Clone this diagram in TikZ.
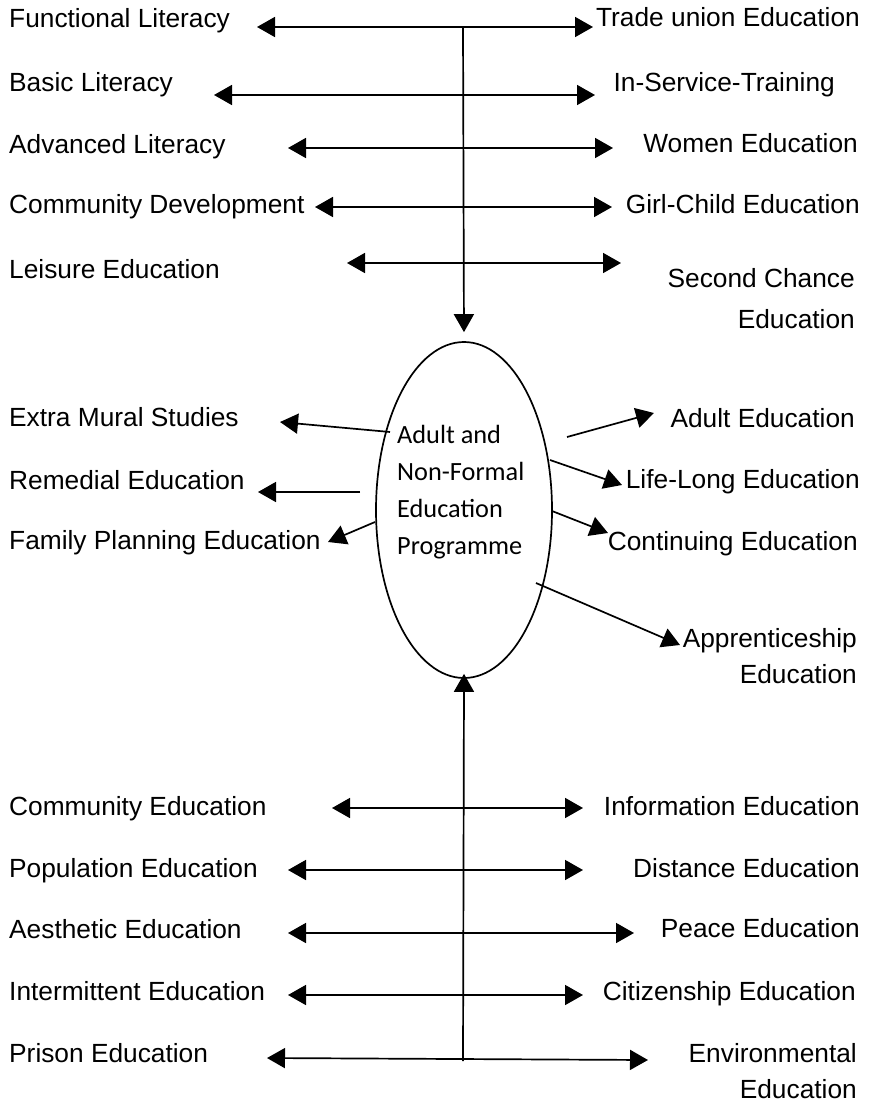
\documentclass[tikz,border=0pt]{standalone}
\usepackage{fontspec}
\setmainfont{Liberation Sans}
\newfontfamily\carlito{Carlito}
\usetikzlibrary{arrows.meta,shapes.geometric}
\begin{document}
\begin{tikzpicture}[x=1pt,y=-1pt,
  lbl/.style={font=\fontsize{26.3}{36}\selectfont, inner sep=0pt},
  arr/.style={line width=1.7pt, -{Triangle[length=18pt,width=20pt]}},
  darr/.style={line width=1.7pt, {Triangle[length=18pt,width=20pt]}-{Triangle[length=18pt,width=20pt]}}]
\useasboundingbox (0,0) rectangle (873,1102);

% left labels
\node[lbl, anchor=base west] (fl) at (9,28) {Functional Literacy};
\node[lbl, anchor=base west] (bl) at (9,92) {Basic Literacy};
\node[lbl, anchor=base west] (al) at (9,154) {Advanced Literacy};
\node[lbl, anchor=base west] (cd) at (9,213) {Community Development};
\node[lbl, anchor=base west] (le) at (9,278) {Leisure Education};
\node[lbl, anchor=base west] (em) at (9,426) {Extra Mural Studies};
\node[lbl, anchor=base west] (re) at (9,489) {Remedial Education};
\node[lbl, anchor=base west] (fp) at (9,549) {Family Planning Education};
\node[lbl, anchor=base west] (ce) at (9,815) {Community Education};
\node[lbl, anchor=base west] (pe) at (9,877) {Population Education};
\node[lbl, anchor=base west] (ae) at (9,938) {Aesthetic Education};
\node[lbl, anchor=base west] (ie) at (9,1000) {Intermittent Education};
\node[lbl, anchor=base west] (pr) at (9,1062) {Prison Education};

% right labels
\node[lbl, anchor=base east] (tu) at (860,27) {Trade union Education};
\node[lbl, anchor=base east] (is) at (835,92) {In-Service-Training};
\node[lbl, anchor=base east] (we) at (858,153) {Women Education};
\node[lbl, anchor=base east] (gc) at (860,213) {Girl-Child Education};
\node[lbl, anchor=base east] (sc) at (855,287) {\begin{tabular}[t]{@{}r@{}}Second Chance\\[5pt]Education\hspace{7pt}\end{tabular}};
\node[lbl, anchor=base east] (ad) at (855,427) {Adult Education};
\node[lbl, anchor=base east] (ll) at (860,488) {Life-Long Education};
\node[lbl, anchor=base east] (co) at (858,550) {Continuing Education};
\node[lbl, anchor=base east] (ap) at (857,647) {\begin{tabular}[t]{@{}r@{}}Apprenticeship\\Education\end{tabular}};
\node[lbl, anchor=base east] (inf) at (860,815) {Information Education};
\node[lbl, anchor=base east] (di) at (860,877) {Distance Education};
\node[lbl, anchor=base east] (pc) at (860,937) {Peace Education};
\node[lbl, anchor=base east] (ci) at (856,1000) {Citizenship Education};
\node[lbl, anchor=base east] (en) at (857,1062) {\begin{tabular}[t]{@{}r@{}}Environmental\hspace{7pt}\\Education\end{tabular}};

% central ellipse
\node[draw, ellipse, line width=1.7pt, minimum width=176pt, minimum height=336pt, inner sep=0pt] (E) at (464,510) {};
\node[anchor=base west, inner sep=0pt, font=\carlito\fontsize{26.3}{37}\selectfont] (Et) at (397,443)
  {\begin{tabular}[t]{@{}l@{}}Adult and\\Non-Formal\\Education\\Programme\end{tabular}};

% top block
\coordinate (T) at (463,27);
\coordinate (L1) at (257,27);  \coordinate (R1) at (593,27);
\coordinate (L2) at (214,95);  \coordinate (R2) at (595,95);
\coordinate (L3) at (288,148); \coordinate (R3) at (613,148);
\coordinate (L4) at (315,207); \coordinate (R4) at (612,207);
\coordinate (L5) at (347,263); \coordinate (R5) at (621,263);
\foreach \i in {1,...,5} {\draw[darr] (L\i) -- (R\i);}
\draw[arr, shorten >=9pt] (T) -- (E.north);

% middle arrows
\coordinate (a1) at (567,437); \coordinate (a2) at (654,413);
\coordinate (b1) at (550,460); \coordinate (b2) at (622,485);
\coordinate (c1) at (552,511); \coordinate (c2) at (608,533);
\coordinate (d1) at (536,583); \coordinate (d2) at (680,645);
\coordinate (e1) at (390,432); \coordinate (e2) at (280,422);
\coordinate (f1) at (360,492); \coordinate (f2) at (258,492);
\coordinate (g1) at (375,522); \coordinate (g2) at (328,542);
\foreach \p in {a,b,c,d,e,f,g} {\draw[arr] (\p1) -- (\p2);}

% bottom block
\coordinate (B) at (463,1061);
\coordinate (BL1) at (332,808);  \coordinate (BR1) at (583,808);
\coordinate (BL2) at (288,870);  \coordinate (BR2) at (583,870);
\coordinate (BL3) at (288,933);  \coordinate (BR3) at (634,933);
\coordinate (BL4) at (288,995);  \coordinate (BR4) at (583,995);
\coordinate (BL5) at (267,1058); \coordinate (BR5) at (648,1060);
\foreach \i in {1,...,5} {\draw[darr] (BL\i) -- (BR\i);}
\draw[arr, shorten >=-5pt] (B) -- (E.south);
\end{tikzpicture}
\end{document}
